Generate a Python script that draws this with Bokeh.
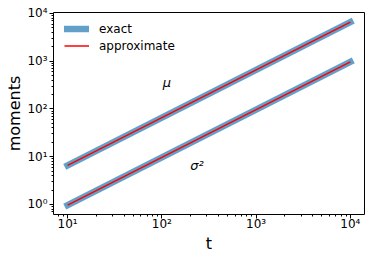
from bokeh.plotting import figure
from bokeh.models import Range1d, Label, Legend, LegendItem, CustomJSTickFormatter
from bokeh.embed import file_html
from bokeh.resources import INLINE

t = [10, 100, 1000, 10000]
mu_exact = [6.6, 66, 660, 6600]
mu_approx = [6.6, 66, 660, 6600]
var_exact = [0.97, 9.7, 97, 970]
var_approx = [0.97, 9.7, 97, 970]

p = figure(frame_width=311, frame_height=202, x_axis_type="log", y_axis_type="log",
           x_range=Range1d(10**0.85, 10**4.15), y_range=Range1d(10**-0.21, 10**4.02),
           output_backend="svg", toolbar_location=None,
           min_border_left=53, min_border_right=2, min_border_top=12, min_border_bottom=30)

p.xgrid.visible = False
p.ygrid.visible = False
p.outline_line_color = "black"
p.outline_line_width = 1
p.outline_line_alpha = 1

fmt = CustomJSTickFormatter(code="""
const sup = {'0':'\u2070','1':'\u00b9','2':'\u00b2','3':'\u00b3','4':'\u2074','5':'\u2075','6':'\u2076','7':'\u2077','8':'\u2078','9':'\u2079','-':'\u207b'};
const e = Math.round(Math.log10(tick));
return '10' + String(e).split('').map(c => sup[c]).join('');
""")

for ax in (p.xaxis[0], p.yaxis[0]):
    ax.formatter = fmt
    ax.major_label_text_font = "DejaVu Sans"
    ax.major_label_text_font_size = "12px"
    ax.major_label_text_color = "black"
    ax.axis_label_text_font = "DejaVu Sans"
    ax.axis_label_text_font_size = "16px"
    ax.axis_label_text_font_style = "normal"
    ax.axis_label_text_color = "black"
    ax.major_tick_in = 0
    ax.major_tick_out = 4
    ax.minor_tick_in = 0
    ax.minor_tick_out = 2
    ax.major_tick_line_color = "black"
    ax.minor_tick_line_color = "black"
    ax.axis_line_color = None

p.xaxis.major_label_standoff = -2
p.yaxis.major_label_standoff = 2
p.xaxis.axis_label = "t"
p.yaxis.axis_label = "moments"
p.xaxis.axis_label_standoff = 0
p.yaxis.axis_label_standoff = 0

exact_color = "#1f77b4"
r1 = p.line(t, mu_exact, line_width=6.5, color=exact_color, alpha=0.7, line_cap="square")
p.line(t, var_exact, line_width=6.5, color=exact_color, alpha=0.7, line_cap="square")
r2 = p.line(t, mu_approx, line_width=1.5, color="red")
p.line(t, var_approx, line_width=1.5, color="red")

legend = Legend(items=[LegendItem(label="exact", renderers=[r1]),
                       LegendItem(label="approximate", renderers=[r2])],
                location=(11, 160), border_line_color=None, background_fill_alpha=0,
                label_text_font="DejaVu Sans", label_text_font_size="12px",
                label_text_color="black",
                glyph_width=25, glyph_height=17, label_height=17, spacing=0,
                padding=0, margin=0, label_standoff=10)
p.add_layout(legend)

p.add_layout(Label(x=113, y=360, text="μ", text_font="DejaVu Sans", text_font_size="13px",
                   text_font_style="italic", text_align="center", text_baseline="middle",
                   text_color="black"))
p.add_layout(Label(x=236, y=6.7, text="σ²", text_font="DejaVu Sans", text_font_size="13px",
                   text_font_style="italic", text_align="center", text_baseline="middle",
                   text_color="black"))

open("out.html", "w").write(file_html(p, INLINE))
